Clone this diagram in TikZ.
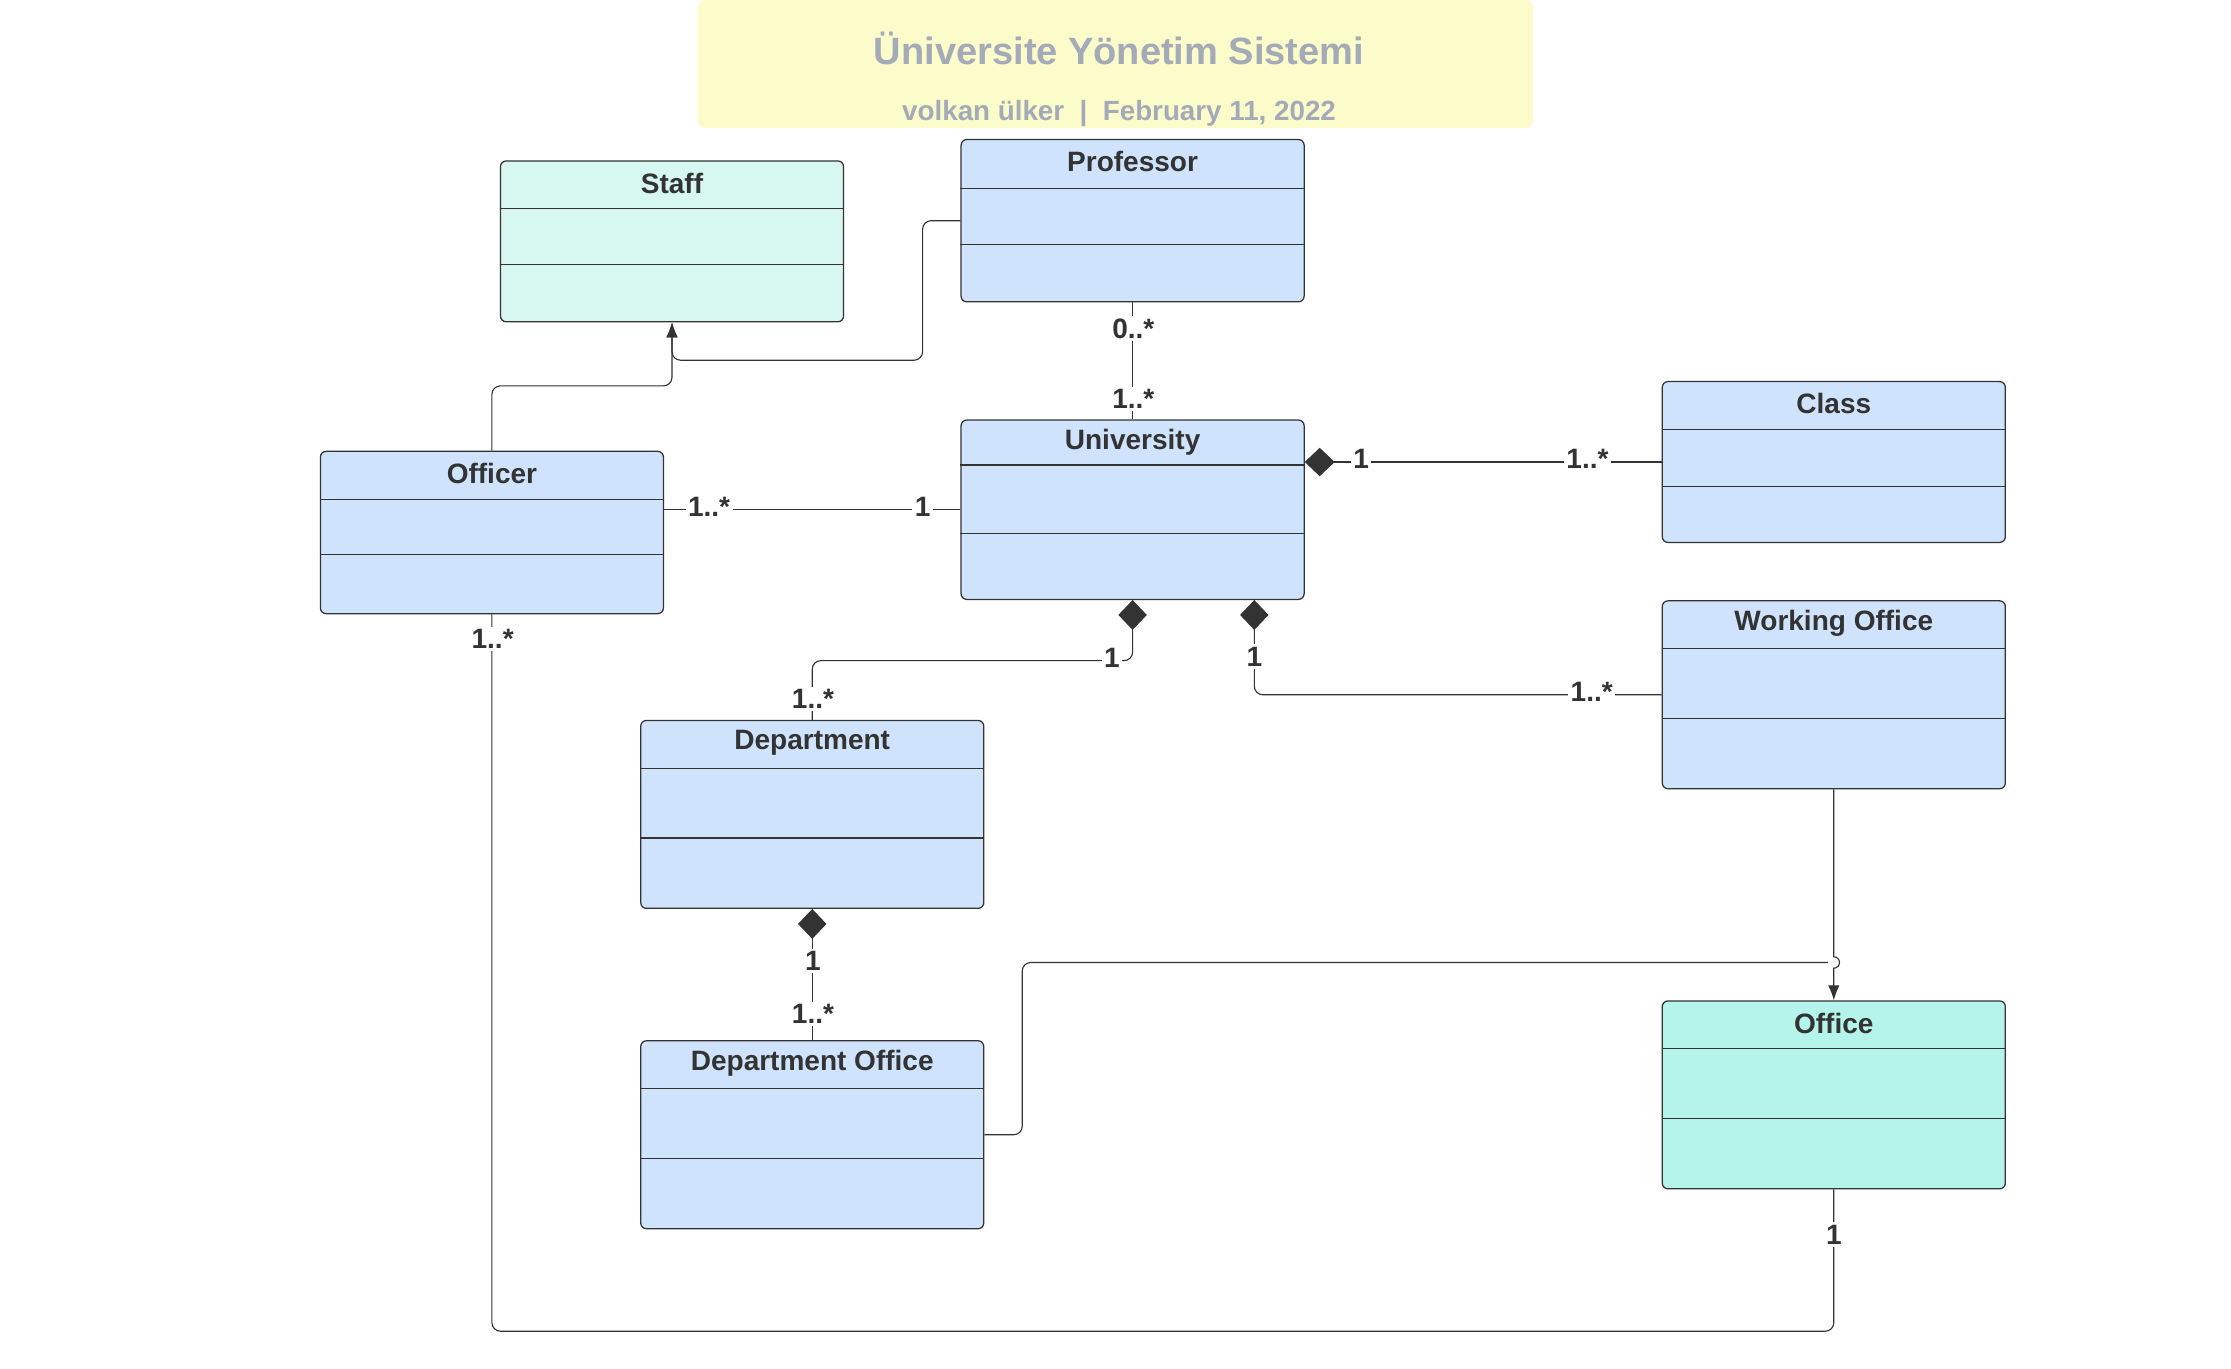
\documentclass[tikz,border=0pt]{standalone}
\usepackage{fontspec}
\setmainfont{Liberation Sans}
\usetikzlibrary{arrows.meta,calc}
\definecolor{classblue}{RGB}{207,227,253}
\definecolor{staffmint}{RGB}{214,248,240}
\definecolor{officemint}{RGB}{181,244,234}
\definecolor{titleyellow}{RGB}{252,251,202}
\definecolor{titlegrey}{RGB}{163,171,185}
\definecolor{ink}{RGB}{51,51,51}
\begin{document}
\begin{tikzpicture}[x=0.02cm,y=-0.02cm,
  umlclass/.style={rectangle,draw=ink,line width=0.5pt,rounded corners=0.08cm,minimum width=4.82cm,inner sep=0pt},
  classname/.style={font=\fontsize{11.2}{13}\selectfont\bfseries,text=ink,inner sep=0pt},
  mult/.style={font=\fontsize{11.2}{13}\selectfont\bfseries,text=ink,fill=white,inner sep=1pt},
  assoc/.style={draw=ink,line width=0.45pt,rounded corners=0.12cm},
  compose/.style={assoc,{Turned Square[length=0.42cm,width=0.4cm]}-},
  inherit/.style={assoc,-{Latex[length=0.21cm,width=0.16cm]}}]
\useasboundingbox (0,0) rectangle (1567,961);
\node[fill=titleyellow,rounded corners=0.12cm,minimum width=11.74cm,minimum height=1.8cm,inner sep=0pt] (title) at (783.5,45) {};
\node[font=\fontsize{15.2}{18}\selectfont\bfseries,text=titlegrey] (title-name) at (786,34) {Üniversite Yönetim Sistemi};
\node[font=\fontsize{11.1}{13}\selectfont\bfseries,text=titlegrey] (title-info) at (786,80) {volkan ülker\ \ |\ \ February 11, 2022};

\node[umlclass,fill=staffmint,minimum height=2.26cm] (staff) at (472,169.5) {};
\node[umlclass,fill=classblue,minimum height=2.28cm] (prof) at (795.5,155) {};
\node[umlclass,fill=classblue,minimum height=2.52cm] (univ) at (795.5,358) {};
\node[umlclass,fill=classblue,minimum height=2.26cm] (class) at (1288,324.5) {};
\node[umlclass,fill=classblue,minimum height=2.28cm] (officer) at (345.5,374) {};
\node[umlclass,fill=classblue,minimum height=2.64cm] (work) at (1288,488) {};
\node[umlclass,fill=classblue,minimum height=2.64cm] (dept) at (570.5,572) {};
\node[umlclass,fill=classblue,minimum height=2.64cm] (deptoff) at (570.5,797) {};
\node[umlclass,fill=officemint,minimum height=2.64cm] (office) at (1288,769) {};

\foreach \cname/\ctext/\linea/\lineb in {staff/Staff/34/73, prof/Professor/35/74, univ/University/32/80,
    class/Class/34/74, officer/Officer/34/73, work/Working Office/34/83, dept/Department/34/83,
    deptoff/Department Office/34/83, office/Office/34/83}{
  \node[classname] (\cname-name) at ($(\cname.north)+(0,16)$) {\ctext};
  \draw[draw=ink,line width=0.45pt] ($(\cname.north west)+(0,\linea)$) -- ($(\cname.north east)+(0,\linea)$)
    ($(\cname.north west)+(0,\lineb)$) -- ($(\cname.north east)+(0,\lineb)$);
}

\coordinate (prof-bend) at (648,253);
\coordinate (officer-bend) at (420,271);
\coordinate (dept-bend) at (700,464);
\coordinate (deptoff-bend) at (718,676);
\coordinate (office-hop) at (1284,676);
\coordinate (bottom-bend) at (800,935);

\draw[inherit] (prof.west) -| (prof-bend) -| (staff.south);
\draw[inherit] (officer.north) |- (officer-bend) -| (staff.south);
\draw[assoc] (prof.south) -- (univ.north);
\draw[assoc] (officer.east |- univ.west) -- (univ.west);
\draw[compose] (univ.east |- class.west) -- (class.west);
\draw[compose] (univ.south) |- (dept-bend) -| (dept.north);
\draw[compose] ([xshift=1.71cm]univ.south) |- (work.west);
\draw[compose] (dept.south) -- (deptoff.north);
\draw[assoc] (deptoff.east) -| (deptoff-bend) -- (office-hop);
\draw[inherit,sharp corners] (work.south) -- (1288,672) arc[start angle=-90,end angle=90,radius=4] -- (office.north);
\draw[assoc] (officer.south) |- (bottom-bend) -| (office.south);

\node[mult] (prof-m) at (796,231) {0..*};
\node[mult] (univ-prof-m) at (796,280) {1..*};
\node[mult] (officer-m) at (498,356) {1..*};
\node[mult] (univ-officer-m) at (648,356) {1};
\node[mult] (univ-class-m) at (956,322) {1};
\node[mult] (class-m) at (1115,322) {1..*};
\node[mult] (univ-dept-m) at (781,462) {1};
\node[mult] (dept-m) at (571,491) {1..*};
\node[mult] (univ-work-m) at (881,461) {1};
\node[mult] (work-m) at (1118,486) {1..*};
\node[mult] (dept-deptoff-m) at (571,675) {1};
\node[mult] (deptoff-m) at (571,712) {1..*};
\node[mult] (officer-office-m) at (346,449) {1..*};
\node[mult] (office-m) at (1288,867) {1};
\end{tikzpicture}
\end{document}
